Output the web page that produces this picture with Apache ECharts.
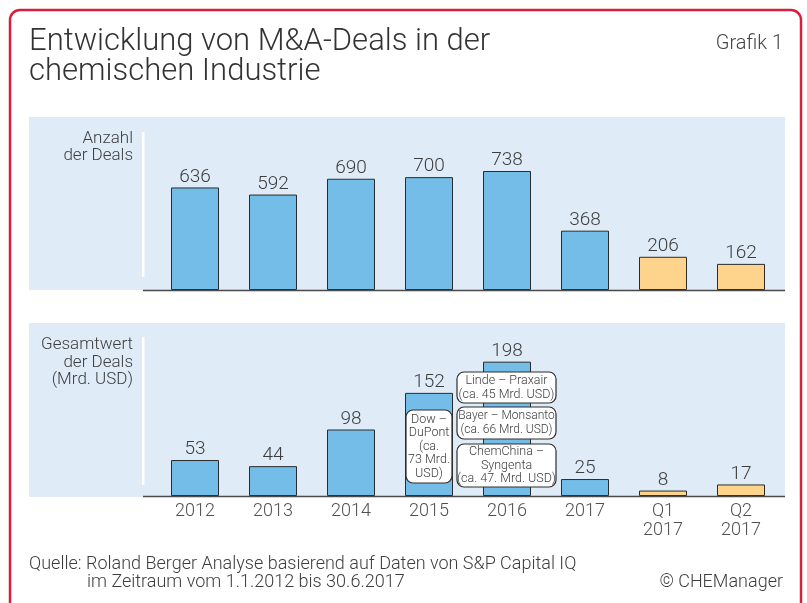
<!DOCTYPE html>
<html>
<head>
<meta charset="utf-8">
<script src="https://cdn.jsdelivr.net/npm/echarts@6/dist/echarts.min.js"></script>
<style>
  html, body { margin: 0; padding: 0; background: #fff; }
  #chart { width: 807px; height: 603px; }
</style>
</head>
<body>
<div id="chart"></div>
<script>
// Daten
var categories = ['2012', '2013', '2014', '2015', '2016', '2017', 'Q1\n2017', 'Q2\n2017'];
var dealCount = [636, 592, 690, 700, 738, 368, 206, 162];
var dealValue = [53, 44, 98, 152, 198, 25, 8, 17];

var FONT = 'Roboto';
var TXT = '#3d3d3d';
var BLUE = '#74bde8';
var ORANGE = '#fed38c';
var PANEL = '#dfebf7';

function barColor(p) {
    return categories[p.dataIndex].charAt(0) === 'Q' ? ORANGE : BLUE;
}

var myChart = echarts.init(document.getElementById('chart'));

// weisse Kaestchen mit den Grossdeals
function box(x, y, w, h, text, fs, lh) {
    return {
        type: 'group',
        z: 50,
        children: [
            { type: 'rect', z: 50, shape: { x: x, y: y, width: w, height: h, r: 7 },
              style: { fill: '#fff', stroke: '#2e2e2e', lineWidth: 1.2 } },
            { type: 'text', z: 51, x: x + w / 2, y: y + h / 2,
              style: { text: text, fill: TXT, font: '300 ' + fs + 'px ' + FONT, lineHeight: lh,
                       align: 'center', verticalAlign: 'middle' } }
        ]
    };
}

var option = {
    animation: false,
    grid: [
        { left: 156, width: 624, top: 117, height: 173 },
        { left: 156, width: 624, top: 323, height: 173 }
    ],
    xAxis: [
        { gridIndex: 0, type: 'category', data: categories,
          axisLine: { show: false }, axisTick: { show: false }, axisLabel: { show: false } },
        { gridIndex: 1, type: 'category', data: categories,
          axisLine: { show: false }, axisTick: { show: false },
          axisLabel: { color: '#505050', fontSize: 18, fontFamily: FONT, fontWeight: 300,
                       lineHeight: 19, margin: 6 } }
    ],
    yAxis: [
        { gridIndex: 0, type: 'value', min: 0, max: 1073, show: false },
        { gridIndex: 1, type: 'value', min: 0, max: 255, show: false }
    ],
    series: [
        { type: 'bar', xAxisIndex: 0, yAxisIndex: 0, data: dealCount, barWidth: 48,
          itemStyle: { color: barColor, borderColor: '#2b2b2b', borderWidth: 1 },
          label: { show: true, position: 'top', distance: 1, color: TXT, fontSize: 19,
                   fontFamily: FONT, fontWeight: 300 } },
        { type: 'bar', xAxisIndex: 1, yAxisIndex: 1, data: dealValue, barWidth: 48,
          itemStyle: { color: barColor, borderColor: '#2b2b2b', borderWidth: 1 },
          label: { show: true, position: 'top', distance: 1, color: TXT, fontSize: 19,
                   fontFamily: FONT, fontWeight: 300 } }
    ],
    graphic: [
        // Rahmen
        { type: 'rect', z: -10, shape: { x: 10, y: 10, width: 791, height: 640, r: 10 },
          style: { fill: '#fff', stroke: '#d6203c', lineWidth: 2.5 } },
        // Panels
        { type: 'rect', z: -9, shape: { x: 29, y: 117, width: 756, height: 173 }, style: { fill: PANEL } },
        { type: 'rect', z: -9, shape: { x: 29, y: 323, width: 756, height: 174 }, style: { fill: PANEL } },
        { type: 'rect', z: -8, shape: { x: 142, y: 132, width: 2.5, height: 145 }, style: { fill: '#fff' } },
        { type: 'rect', z: -8, shape: { x: 142, y: 337, width: 2.5, height: 148 }, style: { fill: '#fff' } },
        // Grundlinien
        { type: 'line', z: 20, shape: { x1: 143, y1: 290.5, x2: 785, y2: 290.5 },
          style: { stroke: '#4a4a4a', lineWidth: 1.5 } },
        { type: 'line', z: 20, shape: { x1: 143, y1: 496.5, x2: 785, y2: 496.5 },
          style: { stroke: '#4a4a4a', lineWidth: 1.5 } },
        // Titel
        { type: 'text', left: 29, top: 27,
          style: { text: 'Entwicklung von M&A-Deals in der\nchemischen Industrie', fill: '#333',
                   font: '300 31px ' + FONT, lineHeight: 30 } },
        { type: 'text', right: 24, top: 34,
          style: { text: 'Grafik 1', fill: '#444', font: '300 20px ' + FONT } },
        // Achsentitel
        { type: 'text', x: 133, y: 130,
          style: { text: 'Anzahl\nder Deals', fill: TXT, font: '300 17px ' + FONT, lineHeight: 17,
                   align: 'right' } },
        { type: 'text', x: 133, y: 336,
          style: { text: 'Gesamtwert\nder Deals\n(Mrd. USD)', fill: TXT, font: '300 17px ' + FONT,
                   lineHeight: 17.5, align: 'right' } },
        // Annotationen
        box(406, 410, 46, 73, 'Dow \u2013\nDuPont\n(ca.\n73 Mrd.\nUSD)', 12.5, 13.5),
        box(457, 372, 99, 31, 'Linde \u2013 Praxair\n(ca. 45 Mrd. USD)', 12.5, 14),
        box(457, 407, 99, 32, 'Bayer \u2013 Monsanto\n(ca. 66 Mrd. USD)', 12, 14),
        box(457, 444, 99, 43, 'ChemChina \u2013\nSyngenta\n(ca. 47. Mrd. USD)', 12.5, 13.5),
        // Quelle
        { type: 'text', left: 29, top: 555,
          style: { text: 'Quelle: Roland Berger Analyse basierend auf Daten von S&P Capital IQ',
                   fill: TXT, font: '300 18px ' + FONT } },
        { type: 'text', left: 87, top: 573,
          style: { text: 'im Zeitraum vom 1.1.2012 bis 30.6.2017', fill: TXT, font: '300 18px ' + FONT } },
        { type: 'text', right: 24, top: 573,
          style: { text: '\u00a9 CHEManager', fill: TXT, font: '300 18px ' + FONT } }
    ]
};
myChart.setOption(option);
</script>
</body>
</html>
